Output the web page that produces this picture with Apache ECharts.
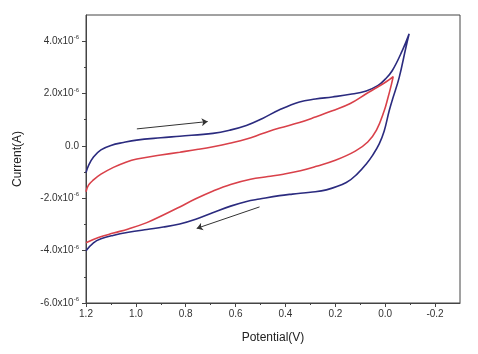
<!DOCTYPE html>
<html lang="en">
<head>
	<meta charset="UTF-8">
	<title>Cyclic voltammogram</title>
	<script src="https://cdn.jsdelivr.net/npm/echarts@6/dist/echarts.min.js"></script>
	<style>
		html, body { margin: 0; padding: 0; background: #fff; }
		#cv-chart { width: 478px; height: 354px; }
	</style>
</head>
<body>
	<div id="cv-chart"></div>
<script>
// potential (V) and current (in units of 1e-6 A)
var bluePotential = [1.2, 1.19, 1.17, 1.14, 1.1, 1.05, 0.997, 0.9, 0.824, 0.691, 0.624, 0.557, 0.492, 0.424, 0.344, 0.28, 0.212, 0.14, 0.076, 0.03, 0.0, -0.028, -0.068, -0.096,
    -0.083, -0.056, -0.03, -0.016, 0.004, 0.024, 0.05, 0.076, 0.11, 0.156, 0.236, 0.3, 0.372, 0.424, 0.504, 0.556, 0.62, 0.692, 0.76, 0.824, 0.89, 0.956, 1.03, 1.092, 1.14, 1.17, 1.2];
var blueCurrent = [-1.02, -0.75, -0.42, -0.15, 0.02, 0.13, 0.22, 0.31, 0.37, 0.48, 0.6, 0.78, 1.05, 1.38, 1.68, 1.79, 1.87, 1.97, 2.1, 2.3, 2.55, 2.87, 3.63, 4.28,
    3.76, 2.61, 1.8, 1.34, 0.57, 0.08, -0.35, -0.69, -1.05, -1.4, -1.68, -1.77, -1.84, -1.9, -2.03, -2.12, -2.3, -2.55, -2.8, -2.98, -3.1, -3.19, -3.3, -3.42, -3.55, -3.7, -4.0];

var redPotential = [1.2, 1.19, 1.17, 1.14, 1.09, 1.04, 0.996, 0.9, 0.824, 0.75, 0.69, 0.624, 0.556, 0.492, 0.424, 0.344, 0.28, 0.212, 0.14, 0.076, 0.03, -0.004, -0.032,
    -0.025, -0.01, 0.004, 0.035, 0.07, 0.12, 0.2, 0.276, 0.34, 0.408, 0.47, 0.54, 0.62, 0.69, 0.76, 0.824, 0.89, 0.956, 1.03, 1.09, 1.15, 1.2];
var redCurrent = [-1.75, -1.5, -1.3, -1.08, -0.82, -0.62, -0.5, -0.35, -0.24, -0.13, -0.03, 0.1, 0.26, 0.47, 0.68, 0.89, 1.1, 1.34, 1.62, 1.99, 2.25, 2.45, 2.65,
    2.35, 1.8, 1.34, 0.6, 0.15, -0.2, -0.55, -0.78, -0.95, -1.08, -1.17, -1.27, -1.47, -1.72, -2.02, -2.33, -2.64, -2.93, -3.17, -3.33, -3.5, -3.7];

// scan direction arrows [start, end]
var arrowForward = [[0.996, 0.65], [0.712, 0.93]];
var arrowReverse = [[0.504, -2.33], [0.756, -3.15]];

var xMajor = [1.2, 1.0, 0.8, 0.6, 0.4, 0.2, 0.0, -0.2];
var xMinor = [1.1, 0.9, 0.7, 0.5, 0.3, 0.1, -0.1];
var yMajor = [-6, -4, -2, 0, 2, 4];
var yMinor = [-5, -3, -1, 1, 3];

function pairs(xs, ys) {
    return xs.map(function (x, i) { return [x, ys[i]]; });
}

var axisColor = '#444';
var myChart = echarts.init(document.getElementById('cv-chart'));

var option = {
    animation: false,
    grid: { left: 86, right: 18, top: 15, bottom: 51, show: true, borderColor: axisColor, borderWidth: 1 },
    xAxis: [{
        type: 'value', inverse: true, min: -0.3, max: 1.2,
        name: 'Potential(V)', nameLocation: 'middle', nameGap: 29,
        nameTextStyle: { fontFamily: 'Liberation Sans', fontSize: 12, color: '#222' },
        axisLine: { onZero: false, lineStyle: { color: axisColor } },
        axisTick: { customValues: xMajor, length: 4, lineStyle: { color: axisColor } },
        axisLabel: {
            customValues: xMajor, margin: 6, fontFamily: 'Liberation Sans', fontSize: 10, color: '#333',
            formatter: function (v) { return v.toFixed(1); }
        },
        splitLine: { show: false }
    }, {
        type: 'value', inverse: true, min: -0.3, max: 1.2, position: 'bottom',
        axisLine: { show: false, onZero: false },
        axisTick: { customValues: xMinor, length: 2, lineStyle: { color: axisColor } },
        axisLabel: { show: false },
        splitLine: { show: false }
    }],
    yAxis: [{
        type: 'value', min: -6, max: 5,
        name: 'Current(A)', nameLocation: 'middle', nameGap: 62,
        nameTextStyle: { fontFamily: 'Liberation Sans', fontSize: 12, color: '#222' },
        axisLine: { show: true, onZero: false, lineStyle: { color: axisColor } },
        axisTick: { show: true, customValues: yMajor, length: 4, lineStyle: { color: axisColor } },
        axisLabel: {
            customValues: yMajor, margin: 7, color: '#333',
            formatter: function (v) {
                if (v === 0) { return '{a|0.0}'; }
                return '{a|' + v.toFixed(1) + 'x10}{s|-6}';
            },
            rich: {
                a: { fontFamily: 'Liberation Sans', fontSize: 10, color: '#333' },
                s: { fontFamily: 'Liberation Sans', fontSize: 6, color: '#333', padding: [0, 0, 7, 0] }
            }
        },
        splitLine: { show: false }
    }, {
        type: 'value', min: -6, max: 5, position: 'left',
        axisLine: { show: false, onZero: false },
        axisTick: { show: true, customValues: yMinor, length: 2, lineStyle: { color: axisColor } },
        axisLabel: { show: false },
        splitLine: { show: false }
    }],
    series: [{
        type: 'line', smooth: 0.4, showSymbol: false,
        data: pairs(bluePotential, blueCurrent),
        lineStyle: { color: '#2b2b7f', width: 1.6 }
    }, {
        type: 'line', smooth: 0.4, showSymbol: false,
        data: pairs(redPotential, redCurrent),
        lineStyle: { color: '#d9414a', width: 1.6 }
    }, {
        type: 'lines', coordinateSystem: 'cartesian2d',
        symbol: ['none', 'arrow'], symbolSize: 6,
        lineStyle: { color: '#333', width: 1, opacity: 1 },
        data: [{ coords: arrowForward }, { coords: arrowReverse }]
    }]
};

myChart.setOption(option);
</script>
</body>
</html>
